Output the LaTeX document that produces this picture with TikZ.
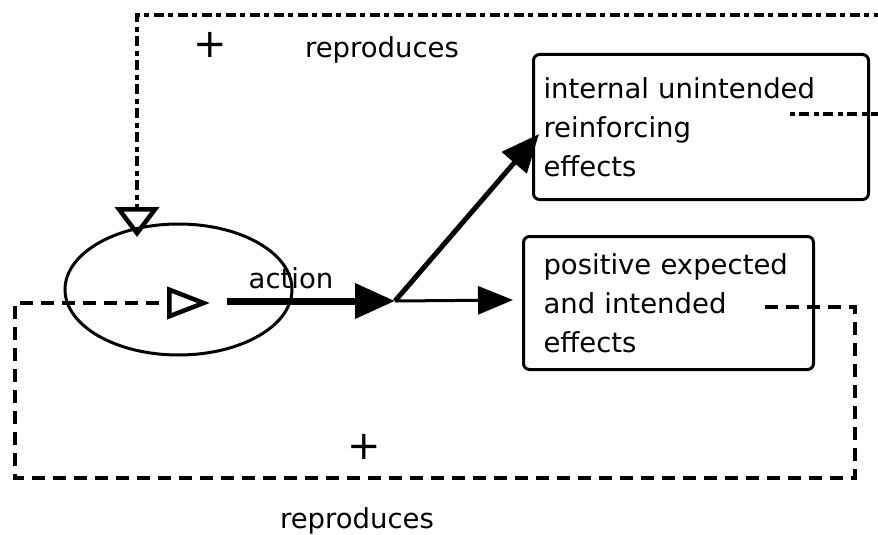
\documentclass[tikz,border=0pt]{standalone}
\usepackage{fontspec}
\setmainfont{DejaVu Sans}
\usetikzlibrary{arrows.meta,shapes.geometric}

\begin{document}
\begin{tikzpicture}[x=1pt,y=-1pt,
    font=\fontsize{27.5}{39}\selectfont,
    mybox/.style={draw,line width=3pt,rounded corners=6pt,anchor=north west,align=left,inner ysep=0pt},
    myplus/.style={font=\fontsize{40}{40}\selectfont,inner sep=0pt},
    myloop/.style={line width=4.5pt,dash pattern=on 5pt off 4pt on 10pt off 5pt,-{Triangle[open,length=30pt,width=44pt]}},
    myloopb/.style={line width=4.5pt,dash pattern=on 13pt off 8pt,-{Triangle[open,length=43pt,width=32pt]}}
]
\useasboundingbox (0,0) rectangle (878,535);
\node[ellipse,draw,line width=3pt,minimum width=227pt,minimum height=131pt,inner sep=0pt] (act) at (178.5,289.5) {};
\node[mybox,text width=315pt,inner xsep=10pt,minimum height=145pt] (internal) at (532,53) {internal unintended\\reinforcing\\effects};
\node[mybox,text width=250pt,inner xsep=20pt,minimum height=133pt] (positive) at (522,235) {positive expected\\and intended\\effects};
\node[anchor=base] (action) at (291,288) {action};
\node[myplus] (plustop) at (210,45) {+};
\node[anchor=base] (reptop) at (382,58) {reproduces};
\node[myplus] (plusbot) at (364,447) {+};
\node[anchor=base] (repbot) at (357,528) {reproduces};
\coordinate (out) at (227,301);
\coordinate (jn) at (395,301);
\coordinate (ta) at (790,114);
\coordinate (tb) at (137,237);
\coordinate (ba) at (765,307);
\coordinate (bb) at (210,303);
\draw[line width=7pt,-{Triangle[length=40pt,width=34pt]}] (out) -- (jn);
\draw[line width=5pt,-{Triangle[length=38pt,width=32pt]}] (jn) -- ([xshift=7pt,yshift=-7pt]internal.west);
\draw[line width=3pt,-{Triangle[length=35pt,width=28pt]}] (jn) -- ([xshift=-9pt,yshift=3pt]positive.west);
\draw[myloop] (ta) -- ++(110,0) |- (137,15) -- (tb);
\draw[myloopb] (ba) -| (855,478) -| (15,303) -- (bb);
\end{tikzpicture}
\end{document}
